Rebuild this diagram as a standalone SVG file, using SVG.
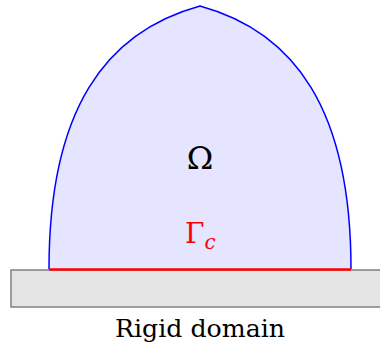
<svg xmlns="http://www.w3.org/2000/svg" width="380" height="347" viewBox="0 0 380 347">
<style>
text{font-family:'DejaVu Serif','Liberation Serif','Noto Serif',serif}
</style>
<rect width="380" height="347" fill="#fff"/>
<g id="rigid">
<rect x="11" y="270" width="372" height="37" fill="#e5e5e5" stroke="#808080" stroke-width="1.5"/>
<text x="200" y="337" font-size="25" text-anchor="middle" fill="#000" textLength="170" lengthAdjust="spacingAndGlyphs">Rigid domain</text>
</g>
<g id="domain">
<path d="M49,269 C49,110 105,32 200,6 C295,32 351,110 351,269 Z" fill="#e5e5ff" stroke="none"/>
<path d="M49,269 C49,110 105,32 200,6 C295,32 351,110 351,269" fill="none" stroke="#0000ff" stroke-width="1.5"/>
<text x="200" y="169" font-size="32" text-anchor="middle" fill="#000">Ω</text>
</g>
<g id="contact">
<line x1="49" y1="269.5" x2="351" y2="269.5" stroke="#ff0000" stroke-width="2.5"/>
<text x="185" y="243" font-size="28" fill="#ff0000">Γ<tspan font-style="italic" font-size="20" dy="6">c</tspan></text>
</g>
</svg>
